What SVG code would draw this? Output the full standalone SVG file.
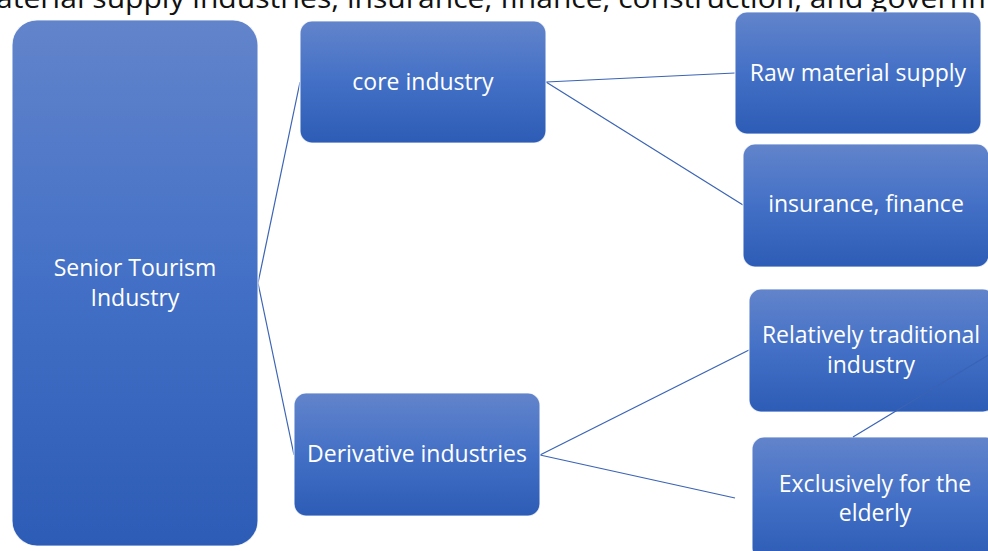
<svg xmlns="http://www.w3.org/2000/svg" width="988" height="551" viewBox="0 0 988 551">
  <defs>
    <linearGradient id="boxFill" x1="0" y1="0" x2="0" y2="1">
      <stop offset="0" stop-color="#6284cb"/>
      <stop offset="0.5" stop-color="#4370c6"/>
      <stop offset="1" stop-color="#2d5cb6"/>
    </linearGradient>
    <style>
      .box { fill: url(#boxFill); stroke: #ffffff; stroke-width: 1.2; stroke-opacity: 0.8; }
      .label { fill: #ffffff; font-family: "Open Sans", "Liberation Sans", sans-serif; font-size: 23px; text-anchor: middle; }
      .link { stroke: #3a63b5; stroke-width: 1.2; fill: none; }
      .caption { fill: #111111; font-family: "Open Sans", "Liberation Sans", sans-serif; font-size: 27px; }
    </style>
  </defs>

  <!-- clipped caption line above the chart -->
  <text class="caption" x="-4" y="8" textLength="1000" lengthAdjust="spacingAndGlyphs">aterial supply industries, insurance, finance, construction, and governm</text>

  <g id="connectors">
    <line class="link" x1="258" y1="283" x2="300" y2="82"/>
    <line class="link" x1="258" y1="283" x2="294" y2="455"/>
    <line class="link" x1="546" y1="82" x2="735" y2="73"/>
    <line class="link" x1="546" y1="82" x2="743" y2="205"/>
    <line class="link" x1="540" y1="455" x2="749" y2="350"/>
    <line class="link" x1="540" y1="455" x2="735" y2="498"/>
  </g>

  <g id="senior-tourism">
    <rect class="box" x="12" y="20" width="246" height="526" rx="25"/>
    <text class="label" x="135" y="276">Senior Tourism</text>
    <text class="label" x="135" y="306">Industry</text>
  </g>

  <g id="core-industry">
    <rect class="box" x="300" y="21" width="246" height="122" rx="12"/>
    <text class="label" x="423" y="90">core industry</text>
  </g>

  <g id="derivative-industries">
    <rect class="box" x="294" y="393" width="246" height="123" rx="12"/>
    <text class="label" x="417" y="462">Derivative industries</text>
  </g>

  <g id="raw-material">
    <rect class="box" x="735" y="12" width="246" height="122" rx="12"/>
    <text class="label" x="858" y="81">Raw material supply</text>
  </g>

  <g id="insurance-finance">
    <rect class="box" x="743" y="144" width="246" height="123" rx="12"/>
    <text class="label" x="866" y="212">insurance, finance</text>
  </g>

  <g id="traditional">
    <rect class="box" x="749" y="289" width="246" height="123" rx="12"/>
    <text class="label" x="871" y="343">Relatively traditional</text>
    <text class="label" x="871" y="373">industry</text>
  </g>

  <g id="elderly">
    <rect class="box" x="752" y="437" width="246" height="123" rx="12"/>
    <text class="label" x="875" y="492">Exclusively for the</text>
    <text class="label" x="875" y="521">elderly</text>
  </g>

  <!-- link running off the right edge, drawn above the boxes -->
  <g id="connector-overlay">
    <line class="link" x1="853" y1="437" x2="990" y2="354"/>
  </g>
</svg>
